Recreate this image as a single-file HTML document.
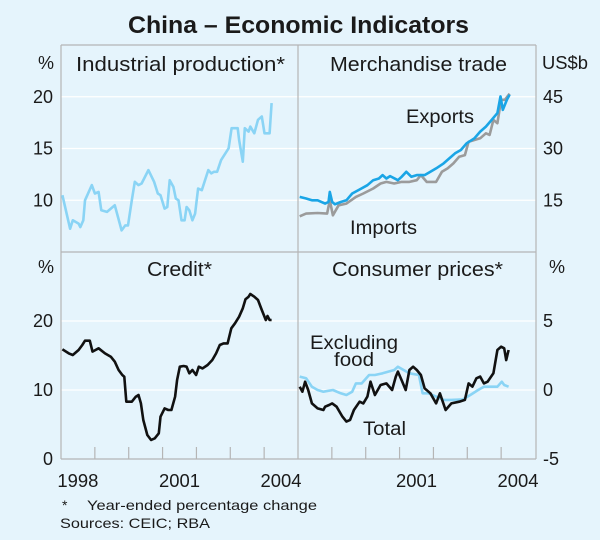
<!DOCTYPE html>
<html><head><meta charset="utf-8">
<style>
body{margin:0;background:#e5f4fc;}
svg{display:block;font-family:"Liberation Sans",Arial,sans-serif;}
</style></head>
<body>
<svg id="c" width="600" height="540" viewBox="0 0 600 540">
<rect x="0" y="0" width="600" height="540" fill="#e5f4fc"/>
<text x="128" y="33" textLength="341" lengthAdjust="spacingAndGlyphs" font-size="24" font-weight="bold" fill="#1a1a1a">China – Economic Indicators</text>
<g id="grid"></g>
<g id="frame"></g>
<g id="series"></g>
<g id="labels"></g>
<text x="62" y="510" font-size="14" fill="#1a1a1a">*</text>
<text x="87" y="510" textLength="230" lengthAdjust="spacingAndGlyphs" font-size="14" fill="#1a1a1a">Year-ended percentage change</text>
<text x="60" y="528" textLength="150" lengthAdjust="spacingAndGlyphs" font-size="14" fill="#1a1a1a">Sources: CEIC; RBA</text>
</svg>
<script>
// time = years since start of axis (start = mid-1997); x labels
const xTickLabels = ["1998","2001","2004"];
const xTickLabelPos = [0.5,3.5,6.5];
const xTickPos = [1,2,3,4,5,6];

const ipT = [0.04,0.27,0.35,0.52,0.57,0.66,0.71,0.91,1.0,1.11,1.19,1.36,1.59,1.79,1.90,1.98,2.09,2.18,2.29,2.38,2.58,2.75,2.86,2.94,3.06,3.14,3.21,3.32,3.39,3.47,3.56,3.65,3.71,3.79,3.88,3.96,4.05,4.16,4.35,4.44,4.52,4.61,4.73,4.95,5.04,5.22,5.26,5.37,5.43,5.54,5.59,5.71,5.82,5.93,6.01,6.16,6.22];
const ipV = [10.49,7.25,8.06,7.74,7.41,8.06,10.0,11.46,10.65,10.8,9.03,8.87,9.51,7.09,7.57,7.57,10.0,11.78,11.46,11.62,12.91,11.78,10.65,10.49,9.19,9.35,11.94,11.29,10.17,10.0,8.06,8.06,9.35,9.03,8.06,8.71,11.14,10.97,12.91,12.59,12.75,12.75,13.88,15.02,16.96,16.96,15.83,13.72,16.96,16.63,17.12,16.47,17.77,18.09,16.47,16.47,19.39];

const expT = [0.05,0.24,0.41,0.58,0.80,0.90,0.94,1.01,1.09,1.26,1.43,1.60,1.82,2.05,2.22,2.39,2.50,2.61,2.72,2.95,3.06,3.20,3.35,3.51,3.74,3.91,4.08,4.30,4.47,4.64,4.81,4.98,5.21,5.38,5.55,5.72,5.89,5.98,6.05,6.17,6.25];
const expV = [15.97,15.5,15.0,15.0,14.03,14.5,17.42,14.5,13.83,14.5,15.0,16.95,18.11,19.37,20.82,21.31,22.28,21.31,21.99,20.82,21.79,23.24,21.79,22.28,22.28,23.24,24.22,25.69,27.14,28.6,29.56,31.51,32.97,34.9,36.35,38.3,40.25,45.1,41.2,44.13,45.58];
const impT = [0.05,0.24,0.58,0.86,0.94,1.03,1.20,1.43,1.71,1.93,2.22,2.44,2.61,2.84,3.06,3.29,3.51,3.63,3.80,4.08,4.25,4.42,4.59,4.76,4.93,5.04,5.21,5.38,5.55,5.66,5.77,5.89,6.00,6.11,6.25];
const impV = [10.34,11.12,11.3,11.12,15.0,10.63,13.54,14.03,15.97,16.95,18.4,19.86,20.33,19.86,20.33,20.33,20.82,22.28,20.33,20.33,23.24,24.22,25.69,27.62,28.1,31.98,32.47,32.97,34.42,33.93,38.3,37.34,44.13,44.13,45.87];

const crT = [0.04,0.23,0.35,0.52,0.63,0.71,0.85,0.93,1.02,1.11,1.30,1.47,1.59,1.70,1.81,1.87,1.93,2.09,2.21,2.29,2.36,2.43,2.55,2.66,2.77,2.89,2.94,3.06,3.17,3.26,3.37,3.43,3.51,3.62,3.71,3.79,3.88,3.99,4.07,4.18,4.33,4.47,4.58,4.69,4.80,4.92,5.03,5.14,5.26,5.37,5.45,5.54,5.59,5.71,5.82,5.93,6.05,6.10,6.16,6.22];
const crV = [15.9,15.31,15.07,15.8,16.52,17.15,17.15,15.56,15.8,16.04,15.31,14.83,14.1,12.9,12.17,11.93,8.3,8.3,9.03,9.28,8.07,5.65,3.48,2.75,3.0,3.72,6.13,7.34,7.1,7.1,9.03,11.45,13.38,13.48,13.38,12.42,12.9,12.17,13.38,13.13,13.62,14.35,15.31,16.52,16.75,16.75,18.94,19.66,20.62,21.84,23.14,23.52,23.91,23.52,23.04,21.59,20.14,20.72,20.14,20.14];

const totT = [0.05,0.13,0.21,0.30,0.41,0.58,0.75,0.80,0.92,1.01,1.14,1.31,1.43,1.54,1.65,1.82,1.93,2.05,2.14,2.27,2.44,2.61,2.78,2.89,2.95,3.06,3.18,3.29,3.40,3.51,3.63,3.74,3.91,4.08,4.19,4.36,4.53,4.76,4.93,5.04,5.15,5.27,5.38,5.49,5.60,5.77,5.89,6.00,6.09,6.15,6.22];
const totV = [0.24,-0.12,0.6,0,-0.97,-1.33,-1.45,-1.21,-1.09,-0.97,-1.21,-1.93,-2.29,-2.17,-1.45,-0.85,-0.97,-0.48,0.6,-0.36,0.36,0.48,0,0.97,1.33,0.72,0,1.45,1.69,1.45,1.09,0.12,-0.24,-0.97,-0.24,-1.45,-0.97,-0.85,-0.72,0.48,0.24,0.85,0.97,0.48,0.6,1.21,2.9,3.14,3.02,2.17,2.9];
const exfT = [0.05,0.24,0.41,0.58,0.75,1.03,1.26,1.43,1.60,1.71,1.88,2.10,2.27,2.50,2.84,2.95,3.12,3.29,3.57,3.68,3.85,4.08,4.30,4.53,4.87,5.09,5.32,5.49,5.72,5.89,6.02,6.09,6.22];
const exfV = [0.97,0.85,0.24,0,-0.12,0,-0.24,-0.36,-0.12,0.48,0.48,1.09,1.09,1.21,1.45,1.69,1.45,1.21,1.09,-0.24,-0.24,-0.48,-0.72,-0.72,-0.68,-0.36,0,0.24,0.24,0.24,0.6,0.36,0.24];

const topGridLeft = [10,15,20];
const topGridRight = [15,30,45];
const botGridLeft = [0,10,20];
const botGridRight = [-5,0,5];

const NS = "http://www.w3.org/2000/svg";
const L0 = 61, MID = 298, R1 = 536, TOP = 45, DIV = 252, BOT = 459;
const yrW = (MID - L0) / 7;
function xL(t){ return L0 + t * yrW; }
function xR(t){ return MID + t * yrW; }
function yLin(lo, hi, y0, y1){ return v => y1 - (v - lo) / (hi - lo) * (y1 - y0); }
const yIP = yLin(5, 25, TOP, DIV);
const yTr = yLin(0, 60, TOP, DIV);
const yCr = yLin(0, 30, DIV, BOT);
const yCPI = yLin(-5, 10, DIV, BOT);

function mk(tag, attrs, parent){
  const e = document.createElementNS(NS, tag);
  for (const k in attrs) e.setAttribute(k, attrs[k]);
  parent.appendChild(e);
  return e;
}
const grid = document.getElementById('grid');
const frame = document.getElementById('frame');
const series = document.getElementById('series');
const labels = document.getElementById('labels');

function hline(y, x0, x1, parent, col, name){
  const l = mk('line', {x1:x0, x2:x1, y1:y, y2:y, stroke:col, 'stroke-width':1.2}, parent);
  
  
}
function label(x, y, txt, anchor, size, name, w){
  const a = {x:x, y:y, 'text-anchor':anchor, 'font-size':size, fill:'#1a1a1a'};
  if (w) { a.textLength = w; a.lengthAdjust = 'spacingAndGlyphs'; }
  const t = mk('text', a, labels);
  t.textContent = txt;
  
  
}

// gridlines + tick labels
topGridLeft.forEach(v => { hline(yIP(v), L0, MID, grid, '#fff', 'gridline'); label(53, yIP(v)+6, String(v), 'end', 18, 'y-tick-label'); });
topGridRight.forEach(v => { hline(yTr(v), MID, R1, grid, '#fff', 'gridline'); label(543, yTr(v)+6, String(v), 'start', 18, 'y-tick-label'); });
botGridLeft.forEach(v => { if (v > 0) hline(yCr(v), L0, MID, grid, '#fff', 'gridline'); label(53, yCr(v)+6, String(v), 'end', 18, 'y-tick-label'); });
botGridRight.forEach(v => { if (v > -5) hline(yCPI(v), MID, R1, grid, '#fff', 'gridline'); label(543, yCPI(v)+6, String(v), 'start', 18, 'y-tick-label'); });

// frame
hline(TOP, L0, R1, frame, '#b5b5b5', 'panel-top-border');
hline(DIV, L0, R1, frame, '#b5b5b5', 'panel-divider-horizontal');
hline(BOT, L0, R1, frame, '#b5b5b5', 'x-axis');
[L0, MID, R1].forEach(x => {
  const l = mk('line', {x1:x, x2:x, y1:TOP, y2:BOT, stroke:'#b5b5b5', 'stroke-width':1.2}, frame);
  
  
});
xTickPos.forEach(t => {
  [xL(t), xR(t)].forEach(x => {
    const l = mk('line', {x1:x, x2:x, y1:BOT-12, y2:BOT, stroke:'#b5b5b5', 'stroke-width':1.2}, frame);
    
    
  });
});
xTickLabels.forEach((s, i) => {
  label(xL(xTickLabelPos[i]), 487, s, 'middle', 18, 'x-tick-label', 41);
  if (i > 0) label(xR(xTickLabelPos[i]), 487, s, 'middle', 18, 'x-tick-label', 41);
});

function path(ts, vs, xf, yf, col, name){
  let d = '';
  ts.forEach((t, i) => { d += (i ? 'L' : 'M') + xf(t).toFixed(1) + ',' + yf(vs[i]).toFixed(1); });
  const p = mk('path', {d:d, fill:'none', stroke:col, 'stroke-width':2.6, 'stroke-linejoin':'round'}, series);
  
  
}
path(ipT, ipV, xL, yIP, '#8ad4f5', 'industrial-production-line');
path(impT, impV, xR, yTr, '#9b9b9b', 'imports-line');
path(expT, expV, xR, yTr, '#1aa5e6', 'exports-line');
path(crT, crV, xL, yCr, '#111', 'credit-line');
path(exfT, exfV, xR, yCPI, '#8ad4f5', 'excluding-food-line');
path(totT, totV, xR, yCPI, '#111', 'cpi-total-line');

// panel titles and units
label(46, 69, '%', 'middle', 18, 'unit-label-top-left');
label(76, 71, 'Industrial production*', 'start', 20, 'panel-title-industrial-production', 209);
label(330, 71, 'Merchandise trade', 'start', 20, 'panel-title-merchandise-trade', 177);
label(542, 69, 'US$b', 'start', 18, 'unit-label-top-right', 46);
label(46, 273, '%', 'middle', 18, 'unit-label-bottom-left');
label(147, 276, 'Credit*', 'start', 20, 'panel-title-credit', 65);
label(332, 276, 'Consumer prices*', 'start', 20, 'panel-title-consumer-prices', 171);
label(557, 273, '%', 'middle', 18, 'unit-label-bottom-right');
label(406, 123, 'Exports', 'start', 19, 'exports-label', 68);
label(350, 234, 'Imports', 'start', 19, 'imports-label', 67);
label(310, 349, 'Excluding', 'start', 19, 'excluding-food-label', 88);
label(334, 366, 'food', 'start', 19, 'excluding-food-label-2', 40);
label(363, 435, 'Total', 'start', 19, 'total-label', 43);
</script>
</body></html>
